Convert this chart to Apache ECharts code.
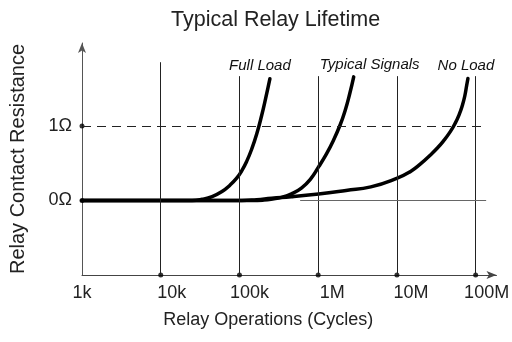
<!DOCTYPE html>
<html>
<head>
<meta charset="utf-8">
<script src="https://cdn.jsdelivr.net/npm/echarts@6/dist/echarts.min.js"></script>
<style>
  html, body { margin: 0; padding: 0; background: #fff; }
  #chart { width: 512px; height: 342px; }
</style>
</head>
<body>
<div id="chart"></div>
<script>
// Decade ticks on the cycles axis and their labels
const xTicks = [1e3, 1e4, 1e5, 1e6, 1e7, 1e8];
const xTickLabels = ['1k', '10k', '100k', '1M', '10M', '100M'];
// Resistance ticks and their labels
const yTicks = [0, 1];
const yTickLabels = ['0\u03A9', '1\u03A9'];

// Curve names
const seriesNames = ['Full Load', 'Typical Signals', 'No Load'];

// [cycles, ohms] for each curve
const fullLoad = [
  [1e3, 0], [2.51e4, 0], [3.36e4, 0.016], [4.49e4, 0.052], [6.0e4, 0.12],
  [7.57e4, 0.206], [9.27e4, 0.304], [1.072e5, 0.401], [1.239e5, 0.529],
  [1.432e5, 0.692], [1.656e5, 0.893], [1.914e5, 1.141], [2.151e5, 1.371],
  [2.438e5, 1.636]
];
const typicalSignals = [
  [1e3, 0], [1.432e5, 0], [2.032e5, 0.006], [2.638e5, 0.02], [3.427e5, 0.042],
  [4.579e5, 0.089], [6.123e5, 0.166], [7.948e5, 0.284], [1.011e6, 0.451],
  [1.264e6, 0.62], [1.549e6, 0.799], [1.915e6, 1.024], [2.196e6, 1.206],
  [2.502e6, 1.423], [2.826e6, 1.66]
];
const noLoad = [
  [1e3, 0], [1.072e5, 0], [1.656e5, 0.012], [2.564e5, 0.032], [4.579e5, 0.052],
  [1.011e6, 0.089], [2.258e6, 0.136], [4.667e6, 0.183], [9.93e6, 0.297],
  [1.492e7, 0.391], [1.995e7, 0.491], [2.667e7, 0.612], [3.241e7, 0.701],
  [3.891e7, 0.798], [4.767e7, 0.925], [5.51e7, 1.039], [6.19e7, 1.157],
  [6.76e7, 1.273], [7.27e7, 1.40], [7.70e7, 1.548], [7.981e7, 1.639]
];

// Extent of the axes (arrow heads sit slightly past the last decade)
const xMin = 1e3, xMax = 1.84e8;
const yMin = -1, yMax = 2.115;
// Top of each decade gridline, and reach of the horizontal reference lines
const gridTops = [1.857, 1.67, 1.67, 1.67, 1.67];
const refLineEnd = 1.36e8;
const zeroLineStart = 5.9e5;

const chart = echarts.init(document.getElementById('chart'), null, { renderer: 'canvas' });

const FONT = 'Liberation Sans, Arial, sans-serif';
const curveData = [fullLoad, typicalSignals, noLoad];
const labelOffsets = [[-10, -5], [16, -5], [-2, -5]];
// Per-label nudges for the decade labels
const xLabelPads = [0, 22, 20, 28, 28, 22];

const markLines = [];
xTicks.slice(1).forEach((v, i) => {
  markLines.push([{ coord: [v, yMin] }, { coord: [v, gridTops[i]] }]);
});
markLines.push([
  { coord: [xMin, 1], lineStyle: { type: [9, 6], color: '#222', width: 1 } },
  { coord: [refLineEnd, 1] }
]);
markLines.push([
  { coord: [zeroLineStart, 0], lineStyle: { color: '#666', width: 1 } },
  { coord: [refLineEnd, 0] }
]);

const tickDots = xTicks.slice(1).map(v => [v, yMin]).concat(yTicks.map(v => [xMin, v]));

const xRich = {};
xLabelPads.forEach((p, i) => {
  xRich['t' + i] = { fontFamily: FONT, fontSize: 18, color: '#222', padding: [0, 0, 0, p] };
});

function decadeIndex(v) {
  const e = Math.log10(v);
  if (Math.abs(e - Math.round(e)) > 1e-6) return -1;
  return xTicks.findIndex(t => Math.abs(Math.log10(t) - e) < 1e-6);
}

const option = {
  animation: false,
  backgroundColor: '#fff',
  title: {
    text: 'Typical Relay Lifetime',
    left: 166,
    top: 4,
    textStyle: { fontFamily: FONT, fontSize: 21.5, fontWeight: 'normal', color: '#222' }
  },
  grid: { left: 79, right: 15, top: 43, bottom: 67, containLabel: false },
  xAxis: {
    type: 'log',
    logBase: 10,
    min: xMin,
    max: xMax,
    name: 'Relay Operations (Cycles)',
    nameLocation: 'middle',
    nameGap: 36,
    nameTextStyle: { fontFamily: FONT, fontSize: 18, color: '#222', padding: [0, 42, 0, 0] },
    axisLine: {
      onZero: false,
      lineStyle: { color: '#444', width: 1 },
      symbol: ['none', 'arrow'],
      symbolSize: [6, 10]
    },
    axisTick: { show: false },
    splitLine: { show: false },
    axisLabel: {
      margin: 9,
      fontFamily: FONT,
      fontSize: 18,
      color: '#222',
      showMaxLabel: true,
      formatter: v => {
        const idx = decadeIndex(v);
        return idx >= 0 ? '{t' + idx + '|' + xTickLabels[idx] + '}' : '';
      },
      rich: xRich
    }
  },
  yAxis: {
    type: 'value',
    min: yMin,
    max: yMax,
    interval: 1,
    name: 'Relay Contact Resistance',
    nameLocation: 'middle',
    nameGap: 54,
    nameTextStyle: { fontFamily: FONT, fontSize: 20, color: '#222' },
    axisLine: {
      show: true,
      onZero: false,
      lineStyle: { color: '#555', width: 1 },
      symbol: ['none', 'arrow'],
      symbolSize: [6, 10]
    },
    axisTick: { show: false },
    splitLine: { show: false },
    axisLabel: {
      margin: 10,
      fontFamily: FONT,
      fontSize: 18,
      color: '#222',
      formatter: v => {
        const idx = yTicks.indexOf(v);
        return idx >= 0 ? yTickLabels[idx] : '';
      }
    }
  },
  series: [
    {
      name: 'ticks',
      type: 'scatter',
      z: 1,
      clip: false,
      silent: true,
      symbolSize: 5,
      itemStyle: { color: '#000' },
      data: tickDots,
      markLine: {
        silent: true,
        symbol: 'none',
        label: { show: false },
        lineStyle: { color: '#222', width: 1, type: 'solid' },
        data: markLines
      }
    }
  ].concat(curveData.map((d, i) => ({
    name: seriesNames[i],
    type: 'line',
    z: 3,
    data: d,
    showSymbol: false,
    symbol: 'none',
    smooth: 0.5,
    clip: false,
    lineStyle: { color: '#000', width: 3.5, cap: 'round', join: 'round' },
    endLabel: {
      show: true,
      formatter: '{a}',
      distance: 0,
      align: 'center',
      verticalAlign: 'bottom',
      offset: labelOffsets[i],
      fontFamily: FONT,
      fontStyle: 'italic',
      fontSize: 15,
      color: '#111'
    }
  })))
};

chart.setOption(option);
</script>
</body>
</html>
